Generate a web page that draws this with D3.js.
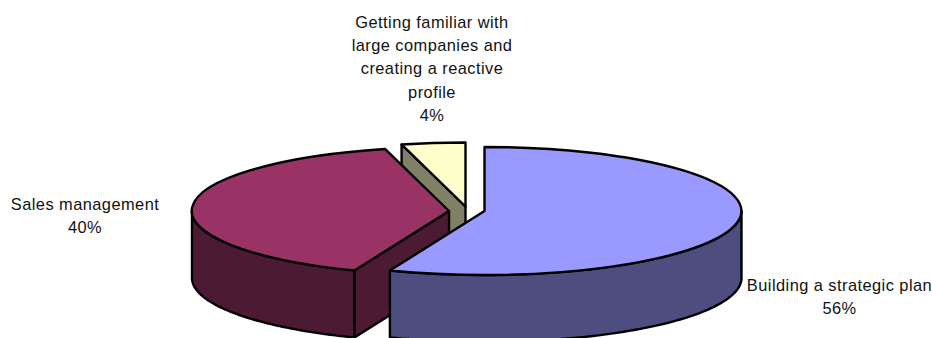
<!DOCTYPE html>
<html>
<head>
<meta charset="utf-8">
<script src="https://cdn.jsdelivr.net/npm/d3@7"></script>
<style>
html,body{margin:0;padding:0;background:#fff;overflow:hidden}
svg{display:block}
text{font-family:"Liberation Sans",Arial,sans-serif;font-size:16.4px;letter-spacing:0.45px;fill:#111;text-anchor:middle}
</style>
</head>
<body>
<svg id="c" width="932" height="338"></svg>
<script>
const categories = ["Building a strategic plan", "Sales management", "Getting familiar with large companies and creating a reactive profile"];
const values = [56, 40, 4];
const labelLines = [
  ["Building a strategic plan", "56%"],
  ["Sales management", "40%"],
  ["Getting familiar with", "large companies and", "creating a reactive", "profile", "4%"]
];
const topColors = ["#9999FF", "#993366", "#FFFFCC"];
const sideColors = ["#4D4D80", "#4D1A33", "#808066"];

// layout
const rx = 257, ry = 64, depth = 67, strokeW = 2.4;
const centers = [[484.5, 211], [449, 211], [465.5, 206.5]];
const labelPos = [[839.5, 291], [85, 210], [432, 28]];
const lineH = 23.2;

const svg = d3.select("#c");
const pie = d3.pie().sort(null).value(d => d).startAngle(0).endAngle(2 * Math.PI);
const arcs = pie(values);
const arc = d3.arc().innerRadius(0).outerRadius(1);
const pt = (c, a, dy = 0) => [c[0] + rx * Math.sin(a), c[1] - ry * Math.cos(a) + dy];
const line = d3.line();

function rim(c, a0, a1) {
  const n = 80, up = d3.range(n + 1).map(i => pt(c, a0 + (a1 - a0) * i / n));
  const down = up.map(p => [p[0], p[1] + depth]).reverse();
  return line(up.concat(down)) + "Z";
}
function wall(c, a) {
  const p = pt(c, a);
  return line([c, p, [p[0], p[1] + depth], [c[0], c[1] + depth]]) + "Z";
}
const side = (sel, d, col) => sel.append("path").attr("d", d).attr("fill", col)
  .attr("stroke", "#000").attr("stroke-width", strokeW).attr("stroke-linejoin", "round");

// paint back to front: small slice, maroon, blue
[2, 1, 0].forEach(i => {
  const s = arcs[i], c = centers[i], g = svg.append("g");
  // radial wall on the start edge, facing the viewer
  if (i === 2 || i === 1) side(g, wall(c, s.startAngle), sideColors[i]);
  // outer rim, front half only (between 90deg and 270deg)
  const a0 = Math.max(s.startAngle, Math.PI / 2), a1 = Math.min(s.endAngle, 3 * Math.PI / 2);
  if (a1 > a0) side(g, rim(c, a0, a1), sideColors[i]);
  // top face
  g.append("path")
    .attr("d", arc(s))
    .attr("transform", `translate(${c[0]},${c[1]}) scale(${rx},${ry})`)
    .attr("fill", topColors[i])
    .attr("stroke", "#000")
    .attr("stroke-width", strokeW)
    .attr("stroke-linejoin", "round")
    .attr("vector-effect", "non-scaling-stroke");
});

labelLines.forEach((lines, i) => {
  const t = svg.append("text").attr("x", labelPos[i][0]).attr("y", labelPos[i][1]);
  lines.forEach((l, k) => t.append("tspan").attr("x", labelPos[i][0]).attr("y", labelPos[i][1] + k * lineH).text(l));
});
</script>
</body>
</html>
